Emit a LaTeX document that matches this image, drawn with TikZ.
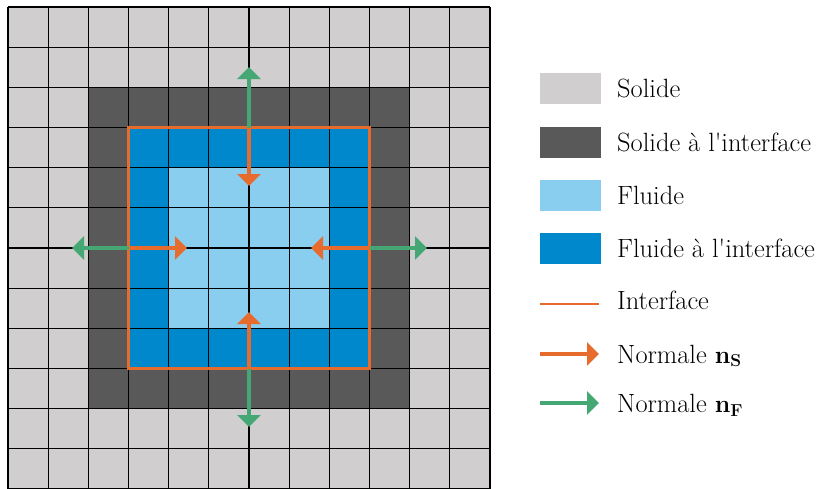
\documentclass[tikz,border=0pt]{standalone}
\usetikzlibrary{arrows.meta}
\definecolor{solidc}{RGB}{208,206,207}
\definecolor{solidint}{RGB}{89,89,89}
\definecolor{fluidc}{RGB}{137,206,238}
\definecolor{fluidint}{RGB}{0,136,204}
\definecolor{iorange}{RGB}{232,107,46}
\definecolor{igreen}{RGB}{69,168,116}
\begin{document}
\begin{tikzpicture}[x=1pt,y=-1pt,
  normal/.style={line width=4pt,-{Triangle[length=12pt,width=23pt]}},
  nS/.style={normal,draw=iorange,fill=iorange},
  nF/.style={normal,draw=igreen,fill=igreen},
  legtext/.style={anchor=base west,inner sep=0pt,font=\fontsize{26.4}{32}\selectfont},
  legbox/.style={minimum width=61pt,minimum height=31pt,inner sep=0pt,anchor=west}]
\useasboundingbox (0,0) rectangle (820,488);
\begin{scope}
\clip (0,0) rectangle (820,488);
\def\c{40.17}
\fill[solidc] (8,7) rectangle ({8+12*\c},{7+12*\c});
\fill[solidint] ({8+2*\c},{7+2*\c}) rectangle ({8+10*\c},{7+10*\c});
\fill[fluidint] ({8+3*\c},{7+3*\c}) rectangle ({8+9*\c},{7+9*\c});
\fill[fluidc] ({8+4*\c},{7+4*\c}) rectangle ({8+8*\c},{7+8*\c});
\foreach \i in {0,...,12}{
  \draw[line width=1.2pt] ({8+\i*\c},7) -- ({8+\i*\c},{7+12*\c});
  \draw[line width=1.2pt] (8,{7+\i*\c}) -- ({8+12*\c},{7+\i*\c});
}
\draw[iorange,line width=2.5pt] ({8+3*\c},{7+3*\c}) rectangle ({8+9*\c},{7+9*\c});
\end{scope}
% edge midpoints
\coordinate (top) at (249,127.5);
\coordinate (bot) at (249,368.5);
\coordinate (lft) at (128.5,248);
\coordinate (rgt) at (369.5,248);
\coordinate (topF) at (249,67);
\coordinate (topS) at (249,186);
\coordinate (botF) at (249,427);
\coordinate (botS) at (249,312);
\coordinate (lftF) at (72,248);
\coordinate (lftS) at (187,248);
\coordinate (rgtF) at (427,248);
\coordinate (rgtS) at (311,248);
\draw[nF] (top) -- (topF);
\draw[nS] (top) -- (topS);
\draw[nF] (bot) -- (botF);
\draw[nS] (bot) -- (botS);
\draw[nF] (lft) -- (lftF);
\draw[nS] (lft) -- (lftS);
\draw[nF] (rgt) -- (rgtF);
\draw[nS] (rgt) -- (rgtS);
% legend
\node[legbox,fill=solidc] (b1) at (540,88.5) {};
\node[legbox,fill=solidint] (b2) at (540,142.5) {};
\node[legbox,fill=fluidc] (b3) at (540,195.5) {};
\node[legbox,fill=fluidint] (b4) at (540,248.5) {};
\coordinate (l1) at (540,304);
\coordinate (l2) at (599,304);
\draw[iorange,line width=2.5pt] (l1) -- (l2);
\coordinate (a1) at (540,354);
\coordinate (a2) at (599,354);
\draw[nS] (a1) -- (a2);
\coordinate (f1) at (540,403);
\coordinate (f2) at (599,403);
\draw[nF] (f1) -- (f2);
\node[legtext] (t1) at (617,97.5) {Solide};
\node[legtext] (t2) at (617,151.5) {Solide à l\textquotesingle interface};
\node[legtext] (t3) at (617,204.5) {Fluide};
\node[legtext] (t4) at (617,257.5) {Fluide à l\textquotesingle interface};
\node[legtext] (t5) at (617,309) {Interface};
\node[legtext] (t6) at (617,363) {Normale $\mathbf{n}_\mathbf{S}$};
\node[legtext] (t7) at (617,412.5) {Normale $\mathbf{n}_\mathbf{F}$};
\end{tikzpicture}
\end{document}
